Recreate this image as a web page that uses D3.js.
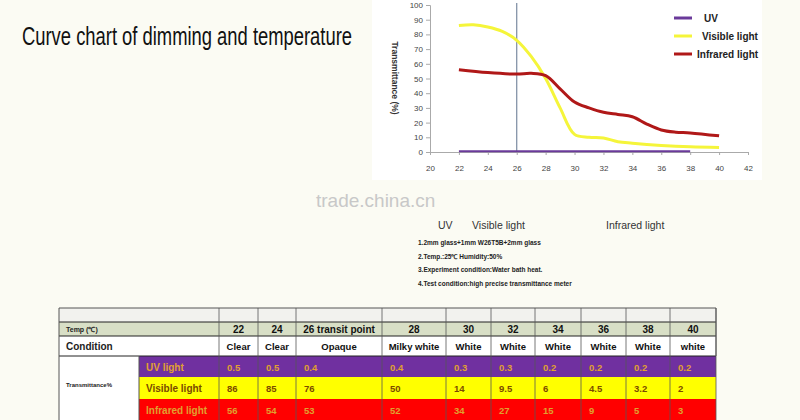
<!DOCTYPE html>
<html><head><meta charset="utf-8">
<script src="https://cdn.jsdelivr.net/npm/d3@7"></script>
<style>body{margin:0;background:#fbfbf3}text{font-family:"Liberation Sans",Arial,sans-serif}</style>
</head><body><svg id="c" width="800" height="420"></svg>
<script>
const visX=[22,23,24,25,26,27,28,29,30,31,32,33,34,36,38,40];
const visY=[86,86.5,85,82,76,65,50,30,12,10,9.5,7,6,4.5,3.5,3];
const irX=[22,24,26,27,28,29,30,31,32,33,34,35,36,37,38,40];
const irY=[56,54,53,53.5,52,43,34,30,27,25.5,24,19,15,13.5,13,11];
const uvX=[22,38];
const uvY=[0.5,0.5];
const xTicks=[20,22,24,26,28,30,32,34,36,38,40,42];
const yTicks=[0,10,20,30,40,50,60,70,80,90,100];
const temps=["22","24","26 transit point","28","30","32","34","36","38","40"];
const conds=["Clear","Clear","Opaque","Milky white","White","White","White","White","White","white"];
const uvRow=["0.5","0.5","0.4","0.4","0.3","0.3","0.2","0.2","0.2","0.2"];
const visRow=["86","85","76","50","14","9.5","6","4.5","3.2","2"];
const irRow=["56","54","53","52","34","27","15","9","5","3"];

const svg=d3.select("#c");
svg.append("rect").attr("x",372).attr("y",0).attr("width",390).attr("height",180).attr("fill","#fff");
svg.append("text").attr("x",22).attr("y",45).attr("font-size",26).attr("fill","#111")
 .attr("textLength",330).attr("lengthAdjust","spacingAndGlyphs")
 .text("Curve chart of dimming and temperature");
const x=d3.scaleLinear().domain([20,42]).range([430,748]);
const y=d3.scaleLinear().domain([0,100]).range([152,5]);
const gx=svg.append("g").attr("transform","translate(0,152)").call(d3.axisBottom(x).tickValues(xTicks).tickSize(0).tickPadding(13));
const gy=svg.append("g").attr("transform","translate(430,0)").call(d3.axisLeft(y).tickValues(yTicks).tickSize(4).tickPadding(3));
[gx,gy].forEach(g=>{g.selectAll("path,line").attr("stroke","#aaa");g.selectAll("text").attr("font-size",8).attr("fill","#444");});
gx.selectAll(".tick line").remove();
gx.selectAll(".tick").append("line").attr("y1",0).attr("y2",3).attr("stroke","#aaa");
svg.append("line").attr("x1",x(26)).attr("x2",x(26)).attr("y1",3).attr("y2",152).attr("stroke","#7a8aa0").attr("stroke-width",1.2);
svg.append("text").attr("transform","translate(392,78) rotate(90)").attr("text-anchor","middle").attr("font-size",8.5).attr("font-weight","bold").attr("fill","#333").text("Transmittance (%)");
const line=d3.line().x(d=>x(d[0])).y(d=>y(d[1])).curve(d3.curveCatmullRom);
const z=(a,b)=>a.map((v,i)=>[v,b[i]]);
svg.append("path").attr("d",line(z(uvX,uvY))).attr("stroke","#6a3a9a").attr("stroke-width",2.2).attr("fill","none");
svg.append("path").attr("d",line(z(visX,visY))).attr("stroke","#f5f53a").attr("stroke-width",3).attr("fill","none");
svg.append("path").attr("d",line(z(irX,irY))).attr("stroke","#b01818").attr("stroke-width",3).attr("fill","none");
const leg=[["UV","#6a3a9a"],["Visible light","#f5f53a"],["Infrared light","#b01818"]];
leg.forEach((l,i)=>{const yy=18+i*18;
 svg.append("line").attr("x1",674).attr("x2",692).attr("y1",yy).attr("y2",yy).attr("stroke",l[1]).attr("stroke-width",3);
 svg.append("text").attr("x",i==0?704:i==1?702:697).attr("y",yy+4).attr("font-size",10).attr("font-weight","bold").attr("fill","#222").text(l[0]);});
svg.append("text").attr("x",316).attr("y",207).attr("font-size",19).attr("fill","#c8c8c8").text("trade.china.cn");
svg.append("text").attr("x",438).attr("y",229).attr("font-size",10.5).attr("fill","#333").text("UV");
svg.append("text").attr("x",472).attr("y",229).attr("font-size",10.5).attr("fill","#333").text("Visible light");
svg.append("text").attr("x",606).attr("y",229).attr("font-size",10.5).attr("fill","#333").text("Infrared light");
["1.2mm glass+1mm W26T5B+2mm glass","2.Temp.:25℃  Humidity:50%","3.Experiment condition:Water bath heat.","4.Test condition:high precise transmittance meter"]
 .forEach((t,i)=>svg.append("text").attr("x",418).attr("y",245+i*13.5).attr("font-size",6.5).attr("font-weight","bold").attr("fill","#222").text(t));
const cols=[219,258,296,382,446,491,535,581,626,670,716];
const rows=[308,322,336,356,377,399,421];
const L=59,S=139;
svg.append("rect").attr("x",L).attr("y",rows[0]).attr("width",716-L).attr("height",14).attr("fill","#f2f2ee");
svg.append("rect").attr("x",L).attr("y",rows[1]).attr("width",716-L).attr("height",14).attr("fill","#d8dfc6");
svg.append("rect").attr("x",L).attr("y",rows[2]).attr("width",716-L).attr("height",20).attr("fill","#fff");
svg.append("rect").attr("x",L).attr("y",rows[3]).attr("width",S-L).attr("height",70).attr("fill","#fff");
const fills=["#7030a0","#ffff00","#ff0000"];
fills.forEach((f,i)=>svg.append("rect").attr("x",S).attr("y",rows[3+i]).attr("width",716-S).attr("height",rows[4+i]-rows[3+i]).attr("fill",f));
svg.append("line").attr("x1",L).attr("x2",716).attr("y1",rows[0]).attr("y2",rows[0]).attr("stroke","#555");
[rows[1],rows[2],rows[3]].forEach(r=>svg.append("line").attr("x1",L).attr("x2",716).attr("y1",r).attr("y2",r).attr("stroke","#222"));
svg.append("line").attr("x1",L).attr("x2",L).attr("y1",rows[0]).attr("y2",420).attr("stroke","#555");
svg.append("line").attr("x1",716).attr("x2",716).attr("y1",rows[0]).attr("y2",rows[3]).attr("stroke","#555");
svg.append("line").attr("x1",S).attr("x2",S).attr("y1",rows[3]).attr("y2",420).attr("stroke","#555");
cols.forEach(c=>svg.append("line").attr("x1",c).attr("x2",c).attr("y1",rows[0]).attr("y2",420).attr("stroke","#555").attr("stroke-width",0.8));
const cx=i=>(cols[i]+cols[i+1])/2;
svg.append("text").attr("x",66).attr("y",332).attr("font-size",7).attr("font-weight","bold").attr("fill","#222").text("Temp (℃)");
svg.append("text").attr("x",66).attr("y",350).attr("font-size",10).attr("font-weight","bold").attr("fill","#222").text("Condition");
svg.append("text").attr("x",66).attr("y",387).attr("font-size",6).attr("font-weight","bold").attr("fill","#222").text("Transmittance%");
temps.forEach((t,i)=>svg.append("text").attr("x",cx(i)).attr("y",333).attr("text-anchor","middle").attr("font-size",10).attr("font-weight","bold").attr("fill","#111").text(t));
conds.forEach((t,i)=>svg.append("text").attr("x",cx(i)).attr("y",350).attr("text-anchor","middle").attr("font-size",9.5).attr("font-weight","bold").attr("fill","#111").text(t));
const rl=[["UV light",uvRow],["Visible light",visRow],["Infrared light",irRow]];
rl.forEach((r,j)=>{const yy=(rows[3+j]+rows[4+j])/2+4;const col=j==1?"#7a4a00":"#e0a030";
 svg.append("text").attr("x",146).attr("y",yy).attr("font-size",10).attr("font-weight","bold").attr("fill",col).text(r[0]);
 r[1].forEach((v,i)=>svg.append("text").attr("x",cols[i]+8).attr("y",yy).attr("font-size",9.5).attr("font-weight","bold").attr("fill",col).text(v));});
</script></body></html>
